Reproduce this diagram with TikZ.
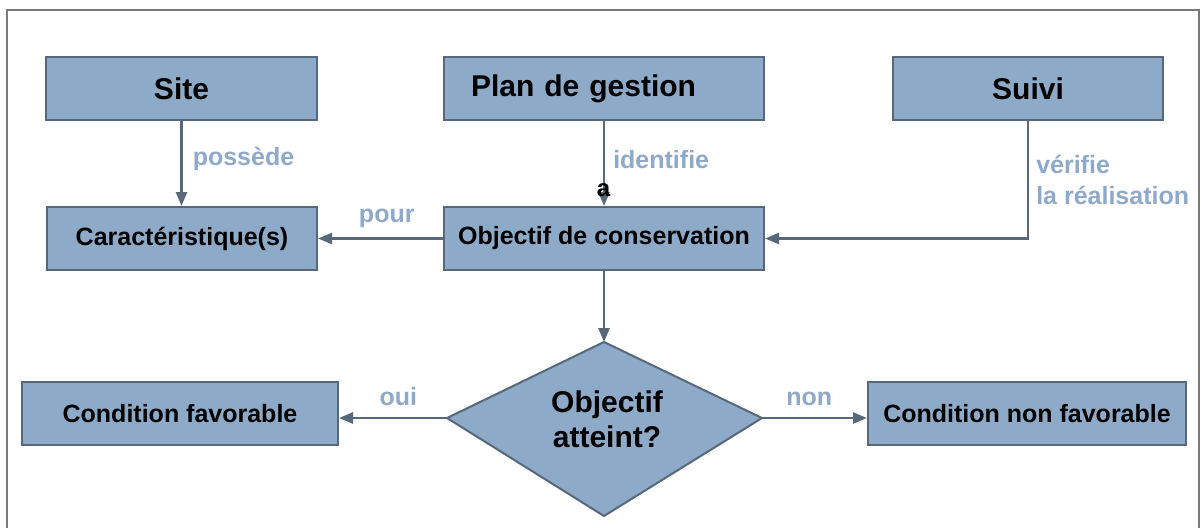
\documentclass[tikz,border=0pt]{standalone}
\usepackage{fontspec}
\setmainfont{Liberation Sans}
\usetikzlibrary{arrows.meta, positioning}
\definecolor{boxfill}{HTML}{8DAAC8}
\definecolor{boxline}{HTML}{56687A}
\definecolor{lblblue}{HTML}{8EA9C9}
\definecolor{framegray}{HTML}{7A7A7A}

\begin{document}
\begin{tikzpicture}[x=1pt, y=-1pt,
    bloc/.style={draw=boxline, line width=2pt, fill=boxfill, inner sep=0pt,
        minimum height=63pt, font=\bfseries\fontsize{25}{30}\selectfont},
    titre/.style={bloc, font=\bfseries\fontsize{30}{36}\selectfont},
    lien/.style={draw=boxline, line width=2.5pt, -{Triangle[length=14pt, width=11pt]}},
    etiq/.style={text=lblblue, inner sep=0pt, font=\bfseries\fontsize{25}{31}\selectfont}]
    \useasboundingbox (0,0) rectangle (1202,528);

    % Frame
    \draw[framegray, line width=2.5pt] (7,528) -- (7,10) -- (1199,10) -- (1199,528);

    % Top row
    \node[titre, minimum width=271pt] (site) at (181.5,88.5) {Site};
    \node[titre, minimum width=320pt, text width=266pt, align=left] (plan) at (604,88.5) {Plan de gestion};
    \node[titre, minimum width=270pt] (suivi) at (1028,88.5) {Suivi};

    % Middle row
    \node[bloc, minimum width=270pt] (carac) at (182,238.5) {Caractéristique(s)};
    \node[bloc, minimum width=320pt] (objectif) at (604,238.5) {Objectif de conservation};

    % Decision
    \coordinate (testN) at (604,342);
    \coordinate (testW) at (447,418);
    \coordinate (testS) at (604,516);
    \coordinate (testE) at (762,418);
    \filldraw[draw=boxline, line width=2pt, fill=boxfill] (testN) -- (testE) -- (testS) -- (testW) -- cycle;
    \node[align=center, inner sep=0pt, font=\bfseries\fontsize{30}{35}\selectfont] (test) at (607,419.5) {Objectif\\atteint?};

    % Bottom row
    \node[bloc, minimum width=316pt] (favorable) at (180,413.5) {Condition favorable};
    \node[bloc, minimum width=318pt] (nonfavorable) at (1027,413.5) {Condition non favorable};

    % Connectors
    \draw[lien] (site.south) -- (site.south |- carac.north)
        node[etiq, pos=0.45, right=10pt] (possede) {possède};
    \draw[lien] (plan.south) -- (objectif.north)
        node[etiq, pos=0.45, right=8pt] (identifie) {identifie};
    \node[inner sep=0pt, font=\bfseries\fontsize{24}{28}\selectfont] (marque) at (603.5,190) {a};
    \draw[lien] (suivi.south) |- (objectif.east)
        node[etiq, pos=0.25, right=7pt, align=left] (verifie) {vérifie\\la réalisation};
    \draw[lien] (objectif.west) -- (carac.east)
        node[etiq, pos=0.45, above=10pt] (pour) {pour};
    \draw[lien] (objectif.south) -- (testN);
    \draw[lien] (testW) -- (testW -| favorable.east)
        node[etiq, pos=0.45, above=11pt] (oui) {oui};
    \draw[lien] (testE) -- (testE -| nonfavorable.west)
        node[etiq, pos=0.45, above=11pt] (non) {non};
\end{tikzpicture}
\end{document}
